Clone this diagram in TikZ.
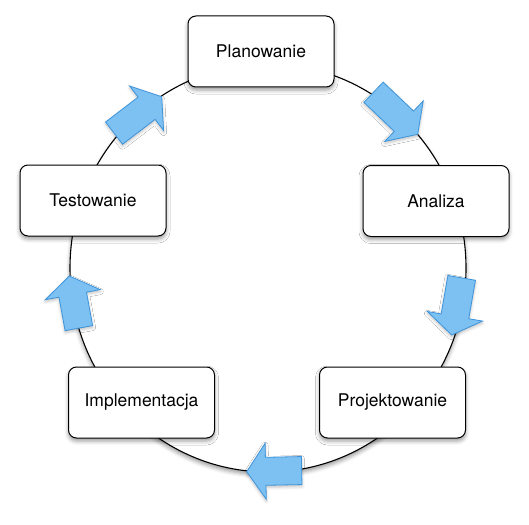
\documentclass[tikz,border=0pt]{standalone}
\usepackage{fontspec}
\setmainfont{TeX Gyre Heros}
\usepackage{tikz}
\usetikzlibrary{shadows.blur}
\definecolor{arrowfill}{RGB}{125,192,242}
\definecolor{arrowline}{RGB}{62,148,218}

\begin{document}
\begin{tikzpicture}[x=1pt, y=-1pt,
    stage/.style={draw, fill=white, line width=1pt, rounded corners=8pt,
      minimum width=146pt, minimum height=71pt, font=\fontsize{17.5}{21}\selectfont,
      blur shadow={shadow xshift=0pt, shadow yshift=-3pt, shadow blur radius=4pt}},
    flow/.style={draw=arrowline, fill=arrowfill, line width=0.8pt,
      blur shadow={shadow xshift=0pt, shadow yshift=-2pt, shadow blur radius=3pt, shadow opacity=25}},
    pics/blockarrow/.style={code={
      \draw[flow] (-#1,-14) -- (-19,-14) -- (-19,-28) -- (0,0) -- (-19,28) -- (-19,14) -- (-#1,14) -- cycle;}}]
    \useasboundingbox (0,0) rectangle (529,524);
    \draw[line width=1.1pt, fill=white, blur shadow={shadow xshift=0pt, shadow yshift=-3pt, shadow blur radius=4pt}]
      (268,268) ellipse [x radius=198pt, y radius=204pt];
    % arrows on the circle, tip first
    \path pic[rotate=-43.6] at (417.7,134.3) {blockarrow=61};
    \path pic[rotate=260.1] at (451.7,335) {blockarrow=58};
    \path pic[rotate=181.2] at (246.7,471.7) {blockarrow=55};
    \path pic[rotate=100.4] at (69.3,276) {blockarrow=53};
    \path pic[rotate=37.4] at (161.7,96.7) {blockarrow=60};
    % stages
    \node[stage] (plan) at (261,51.5) {Planowanie};
    \node[stage] (anal) at (436,201) {Analiza};
    \node[stage] (proj) at (392.5,402.5) {Projektowanie};
    \node[stage] (impl) at (141.5,402.5) {Implementacja};
    \node[stage] (test) at (93,200.5) {Testowanie};
  \end{tikzpicture}
\end{document}
